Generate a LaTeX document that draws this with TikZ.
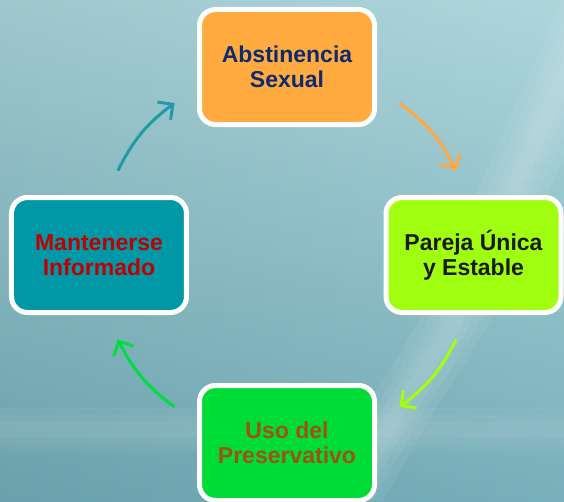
\documentclass[tikz,border=0pt]{standalone}
\usepackage{fontspec}
\setmainfont{Liberation Sans}
\usetikzlibrary{arrows.meta}

\definecolor{bgtop}{HTML}{A9D4DA}
\definecolor{bgbot}{HTML}{70ABB7}
\definecolor{absfill}{HTML}{FFAB40}
\definecolor{abstext}{HTML}{0D2B6E}
\definecolor{parfill}{HTML}{A0FF10}
\definecolor{partext}{HTML}{1A1A1A}
\definecolor{usofill}{HTML}{00DC37}
\definecolor{usotext}{HTML}{A0520F}
\definecolor{manfill}{HTML}{0098A6}
\definecolor{mantext}{HTML}{C00000}
\definecolor{absarr}{HTML}{FFA845}
\definecolor{pararr}{HTML}{A4FF0A}
\definecolor{usoarr}{HTML}{00DD40}
\definecolor{manarr}{HTML}{1F9BA8}

\tikzset{
  box/.style={draw=white,line width=5pt,rounded corners=16pt,
    minimum width=175pt,minimum height=115pt,align=center,
    font=\fontsize{23}{25}\selectfont\bfseries},
}

\begin{document}
\begin{tikzpicture}[x=1pt,y=1pt,->,>={Straight Barb[length=11pt,width=22pt]},line width=3pt]

\clip (-287,-246) rectangle (277,255);

% background
\shade [top color=bgtop,bottom color=bgbot] (-287,-246) rectangle (277,255);
\shade [left color=black,right color=white,opacity=0.06] (-287,-246) rectangle (277,255);
\foreach \h in {22,15,8}
  \fill [white,opacity=0.04] (-287,-175-\h) rectangle (277,-175+\h);
\foreach \w in {36,26,17,9}
  \fill [white,opacity=0.06] (312+\w,255) -- (163+\w,-75) -- (106+\w,-165) -- (60+\w,-246)
    -- (60-\w,-246) -- (106-\w,-165) -- (163-\w,-75) -- (312-\w,255) -- cycle;

\node [box,fill=absfill,text=abstext] (abs) at (0,188) {Abstinencia\\Sexual};
\node [box,fill=parfill,text=partext] (par) at (186.5,0) {Pareja Única\\y Estable};
\node [box,fill=usofill,text=usotext] (uso) at (0,-188) {Uso del\\Preservativo};
\node [box,fill=manfill,text=mantext] (man) at (-188,0) {Mantenerse\\Informado};

\coordinate (a1) at (53.5:189);
\coordinate (a2) at (26.5:189);
\coordinate (b1) at (-26.5:189);
\coordinate (b2) at (-53.5:189);
\coordinate (c1) at (-126.5:189);
\coordinate (c2) at (-153.5:189);
\coordinate (d1) at (153.5:189);
\coordinate (d2) at (126.5:189);

\draw [absarr] (a1) to [bend left=13.5] (a2);
\draw [pararr] (b1) to [bend left=13.5] (b2);
\draw [usoarr] (c1) to [bend left=13.5] (c2);
\draw [manarr] (d1) to [bend left=13.5] (d2);

\end{tikzpicture}
\end{document}
